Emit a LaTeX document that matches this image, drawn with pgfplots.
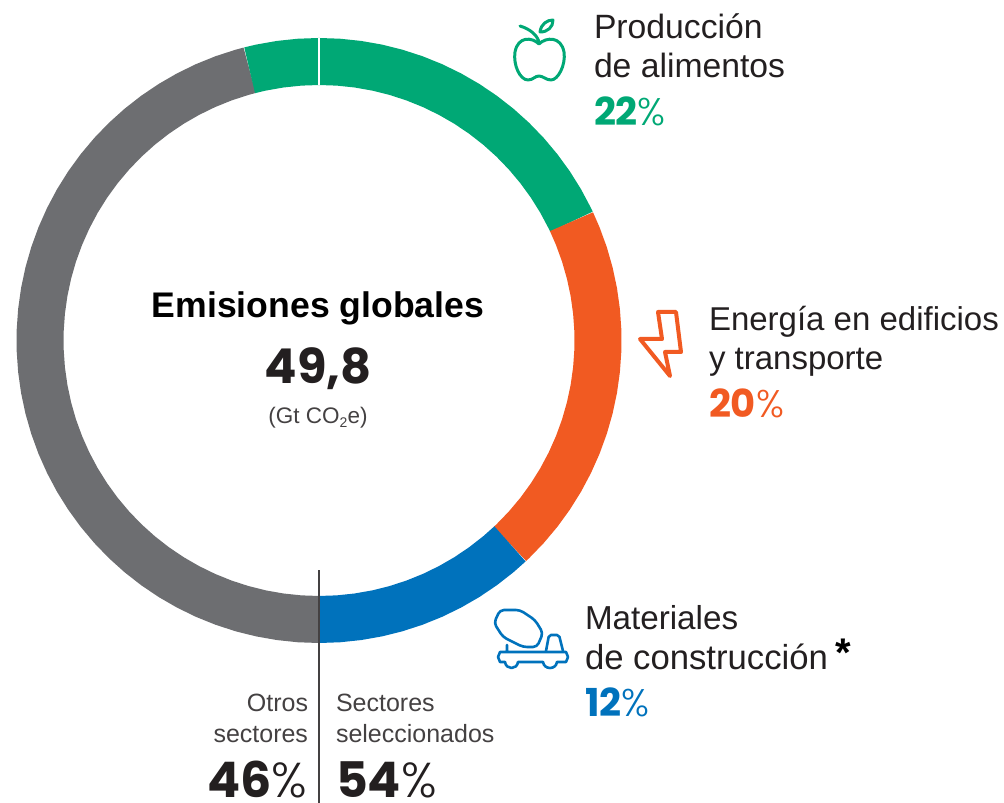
\documentclass[border=0pt]{standalone}
\usepackage{pgfplots}
\usepackage{fontspec}
\pgfplotsset{compat=1.18}
\setmainfont{Liberation Sans}
\newfontfamily\numb{Poppins}[UprightFont=* Bold]
\newfontfamily\thin{Poppins}[UprightFont=* Light]
\definecolor{cgreen}{HTML}{00A875}
\definecolor{corange}{HTML}{F15A22}
\definecolor{cblue}{HTML}{0072BC}
\definecolor{cgrey}{HTML}{6D6E71}
\definecolor{ctext}{HTML}{231F20}
\newcommand\pct[2]{{\numb\fontsize{#1}{#1}\selectfont #2}{\thin\fontsize{#1}{#1}\selectfont\%}}
\begin{document}
\begin{tikzpicture}
\useasboundingbox (0pt,0pt) rectangle (1004pt,803pt);
\begin{axis}[
  at={(0pt,0pt)}, anchor=south west,
  scale only axis, width=1004pt, height=803pt,
  xmin=-319, xmax=685, ymin=-462.5, ymax=340.5,
  axis lines=none, clip=false]
% ring arcs: share of 100 % clockwise from the bottom, (angle, radius)
\addplot[data cs=polar, no markers, line width=47pt, line cap=butt, cgrey] coordinates {
 (270,279)(266,279)(262,279)(258,279)(254,279)(250,279)(246,279)(242,279)(238,279)(234,279)
 (230,279)(226,279)(222,279)(218,279)(214,279)(210,279)(206,279)(202,279)(198,279)(194,279)
 (190,279)(186,279)(182,279)(178,279)(174,279)(170,279)(166,279)(162,279)(158,279)(154,279)
 (150,279)(146,279)(142,279)(138,279)(134,279)(130,279)(126,279)(122,279)(118,279)(114,279)
 (110,279)(106,279)(104.4,279)};
\addplot[data cs=polar, no markers, line width=47pt, line cap=butt, cgreen] coordinates {
 (104.4,279)(102,279)(98,279)(94,279)(90,279)(86,279)(82,279)(78,279)(74,279)(70,279)
 (66,279)(62,279)(58,279)(54,279)(50,279)(46,279)(42,279)(38,279)(34,279)(30,279)(26,279)(25.2,279)};
\addplot[data cs=polar, no markers, line width=47pt, line cap=butt, corange] coordinates {
 (25.2,279)(22,279)(18,279)(14,279)(10,279)(6,279)(2,279)(-2,279)(-6,279)(-10,279)
 (-14,279)(-18,279)(-22,279)(-26,279)(-30,279)(-34,279)(-38,279)(-42,279)(-46,279)(-46.8,279)};
\addplot[data cs=polar, no markers, line width=47pt, line cap=butt, cblue] coordinates {
 (-46.8,279)(-50,279)(-54,279)(-58,279)(-62,279)(-66,279)(-70,279)(-74,279)(-78,279)(-82,279)(-86,279)(-90,279)};
% white tick at top, divider below
\addplot[no markers, white, line width=1.6pt] coordinates {(0,302.5)(0,255.5)};
\addplot[no markers, ctext!85!white, line width=1.3pt] coordinates {(0,-230)(0,-462.5)};
\end{axis}
\begin{scope}[x=1pt,y=-1pt,shift={(0pt,803pt)},
  t/.style={inner sep=0pt, outer sep=0pt, text=ctext, font=\fontsize{33.7}{34}\selectfont, anchor=base west},
  s/.style={inner sep=0pt, outer sep=0pt, text=ctext!85!white, font=\fontsize{25}{25}\selectfont}]
\node[t] at (594,39) {Producción};
\node[t] at (594,78) {de alimentos};
\node[t,text=cgreen] at (594,126) {\pct{38.5}{22}};
\node[t,font=\fontsize{33}{33}\selectfont] at (709,331) {Energía en edificios};
\node[t,font=\fontsize{33}{33}\selectfont] at (709,370) {y transporte};
\node[t,text=corange] at (709,418) {\pct{38.5}{20}};
\node[t,font=\fontsize{33.2}{34}\selectfont] at (585,630) {Materiales};
\node[t,font=\fontsize{34.7}{35}\selectfont] at (585,670) {de construcción};
\node[t,text=cblue] at (585,717) {\pct{38.5}{12}};
\node[t,text=black,font=\fontsize{40}{40}\selectfont\bfseries,anchor=base] at (843,667) {*};
\node[s,anchor=base east] at (308,712) {Otros};
\node[s,anchor=base east] at (308,743) {sectores};
\node[s,anchor=base west] at (336,712) {Sectores};
\node[s,anchor=base west] at (336,743) {seleccionados};
\node[t,anchor=base east] at (307,798) {\pct{49}{46}};
\node[t,anchor=base west] at (336,798) {\pct{49}{54}};
\node[t,text=black,anchor=base,font=\fontsize{35.6}{36}\selectfont\bfseries] at (318,318) {Emisiones globales};
\node[t,anchor=base] at (318,384) {\numb\fontsize{48}{48}\selectfont 49,8};
\node[s,anchor=base,font=\fontsize{22.5}{23}\selectfont] at (318,424) {(Gt CO\raisebox{-4pt}{\fontsize{14}{14}\selectfont 2}e)};
% apple
\draw[cgreen,line width=3pt,line join=round,line cap=round]
 (539,44) .. controls (532,37) and (518,36) .. (515,52) .. controls (513,65) and (520,80) .. (528,80)
 .. controls (533,80) and (535,76) .. (539,76) .. controls (543,76) and (546,80) .. (551,80)
 .. controls (558,80) and (566,65) .. (564,52) .. controls (561,36) and (546,37) .. (539,44) -- cycle;
\draw[cgreen,line width=3pt,line cap=round,line join=round]
 (539,42) .. controls (537,35) and (530,29) .. (520,26);
\draw[cgreen,line width=3pt,line cap=round,line join=round]
 (540,32) .. controls (541,24) and (547,20) .. (553,20) .. controls (553,27) and (548,32) .. (540,32) -- cycle;
% bolt
\draw[corange,line width=4pt,line join=round,line cap=round]
 (662,339) -- (658,312) -- (676,312) -- (681,352) -- (665,352) -- (670,376) -- (640,339) -- cycle;
% mixer truck
\draw[cblue,line width=2.6pt,line join=round,line cap=round,rounded corners=4pt]
 (494,623) -- (500,610) -- (520,610) -- (535,620) -- (543,633) -- (537,647) -- (523,647) -- (503,637) -- cycle;
\draw[cblue,line width=2.6pt,line join=round,line cap=round,rounded corners=2pt]
 (546,651) -- (549,635) -- (559,635) -- (563,651);
\draw[cblue,line width=2.6pt,line join=round,line cap=round]
 (507,645) -- (507,652) -- (500,652) -- (498,657) -- (500,662) -- (505,662)
 .. controls (506,670) and (517,670) .. (518,662) -- (543,662)
 .. controls (544,670) and (556,670) .. (557,662) -- (566,662) -- (568,657) -- (566,652) -- (507,652);
\end{scope}
\end{tikzpicture}
\end{document}
